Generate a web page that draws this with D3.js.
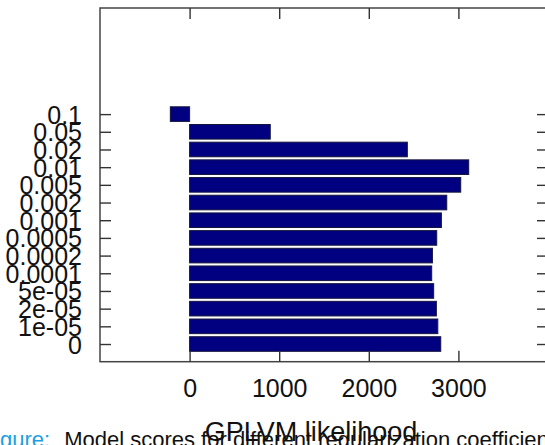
<!DOCTYPE html>
<html>
<head>
<meta charset="utf-8">
<script src="https://cdn.jsdelivr.net/npm/d3@7"></script>
<style>
  html, body { margin: 0; padding: 0; overflow: hidden; background: #fff; }
  svg { display: block; font-family: "Liberation Sans", "DejaVu Sans", sans-serif; }
</style>
</head>
<body>
<div id="container"></div>
<script>
/* ---------- DATA ---------- */
const categories = ["0", "1e-05", "2e-05", "5e-05", "0.0001", "0.0002", "0.0005",
  "0.001", "0.002", "0.005", "0.01", "0.02", "0.05", "0.1"];
const likelihoods = [2803, 2770, 2754, 2724, 2702, 2710, 2758,
  2810, 2870, 3026, 3115, 2430, 900, -215];
const xTicks = [0, 1000, 2000, 3000];

/* ---------- CONSTANTS ---------- */
const width = 545,
  height = 445,
  plot = { left: 100, right: 548, top: 8, bottom: 361.7 },
  tickLen = 11;

const svg = d3.select("#container")
  .append("svg")
  .attr("width", width)
  .attr("height", height);

// + SCALES
const xScale = d3.scaleLinear()
  .domain([-1000, 4000])
  .range([plot.left, plot.right]);

// index of category, with one empty slot below and room on top
const yScale = d3.scaleLinear()
  .domain([-1, 19])
  .range([plot.bottom, plot.top]);

const barH = 14.6;

// + BARS
svg.selectAll("rect.bar")
  .data(categories.map((c, i) => ({ cat: c, i: i, v: likelihoods[i] })))
  .join("rect")
  .attr("class", "bar")
  .attr("x", d => xScale(Math.min(0, d.v)))
  .attr("y", d => yScale(d.i) - barH / 2)
  .attr("width", d => Math.abs(xScale(d.v) - xScale(0)))
  .attr("height", barH)
  .attr("fill", "#000080")
  .attr("stroke", "#14143c")
  .attr("stroke-width", 1);

// + FRAME
svg.append("rect")
  .attr("x", plot.left)
  .attr("y", plot.top)
  .attr("width", plot.right - plot.left)
  .attr("height", plot.bottom - plot.top)
  .attr("fill", "none")
  .attr("stroke", "#444")
  .attr("stroke-width", 1.5);

// + AXES (inward ticks)
const xAxisBottom = d3.axisBottom(xScale).tickValues(xTicks).tickSize(-tickLen).tickFormat(d3.format("d"));
const xAxisTop = d3.axisTop(xScale).tickValues(xTicks).tickSize(-tickLen).tickFormat("");
const yAxisLeft = d3.axisLeft(yScale).tickValues(d3.range(categories.length)).tickSize(-tickLen)
  .tickFormat(i => categories[i]);
const yAxisRight = d3.axisRight(yScale).tickValues(d3.range(categories.length)).tickSize(-tickLen).tickFormat("");

function styleAxis(g) {
  g.select(".domain").remove();
  g.selectAll(".tick line").attr("stroke", "#333").attr("stroke-width", 1.4);
  g.selectAll(".tick text")
    .attr("fill", "#111")
    .style("font-size", "25px")
    .style("font-family", "'Liberation Sans', sans-serif");
}

svg.append("g")
  .attr("transform", `translate(0,${plot.bottom})`)
  .call(xAxisBottom)
  .call(styleAxis)
  .call(g => g.selectAll(".tick text").attr("y", 18).attr("dy", "0.71em"));

svg.append("g")
  .attr("transform", `translate(0,${plot.top})`)
  .call(xAxisTop)
  .call(styleAxis);

svg.append("g")
  .attr("transform", `translate(${plot.left},0)`)
  .call(yAxisLeft)
  .call(styleAxis)
  .call(g => g.selectAll(".tick text").attr("x", -18).attr("dy", "0.36em"));

svg.append("g")
  .attr("transform", `translate(${plot.right},0)`)
  .call(yAxisRight)
  .call(styleAxis);

// + AXIS TITLE
svg.append("text")
  .attr("x", 311)
  .attr("y", 441)
  .attr("text-anchor", "middle")
  .attr("fill", "#111")
  .style("font-size", "27px")
  .text("GPLVM likelihood");

// + CAPTION (cut off by the page edges)
const caption = svg.append("text")
  .attr("x", 0)
  .attr("y", 447)
  .style("font-size", "22px");
caption.append("tspan").attr("fill", "#1ba1e2").text("gure:");
caption.append("tspan").attr("fill", "#111").attr("dx", 14)
  .text("Model scores for different regularization coefficients");
</script>
</body>
</html>
